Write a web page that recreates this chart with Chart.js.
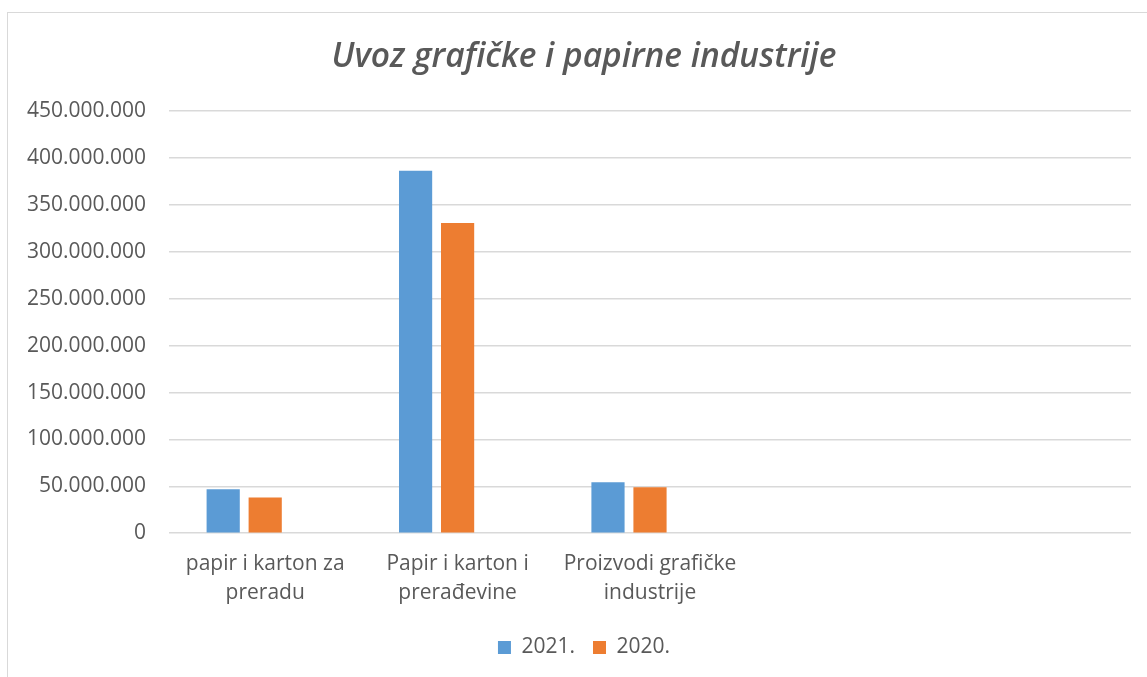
<!DOCTYPE html>
<html>
<head>
<meta charset="utf-8">
<script src="https://cdn.jsdelivr.net/npm/chart.js@4/dist/chart.umd.min.js"></script>
<style>
  html, body { margin: 0; padding: 0; background: #fff; }
  #frame { position: absolute; left: 7px; top: 12px; width: 1160px; height: 700px; border: 1px solid #d9d9d9; box-sizing: border-box; }
  #wrap { position: absolute; left: 0; top: 0; width: 1147px; height: 677px; }
</style>
</head>
<body>
<div id="frame"></div>
<div id="wrap"><canvas id="c" width="1147" height="677"></canvas></div>
<script>
const categories = [["papir i karton za", "preradu"], ["Papir i karton i", "prerađevine"], ["Proizvodi grafičke", "industrije"], "", ""];
const series2021 = [46800000, 386400000, 54200000, null, null];
const series2020 = [38200000, 330700000, 49000000, null, null];
const seriesEmpty = [null, null, null, null, null];
const seriesNames = ["2021.", "2020.", ""];
const yMax = 450000000;
const yStep = 50000000;

function fmt(v) {
  return String(Math.round(v)).replace(/\B(?=(\d{3})+(?!\d))/g, ".");
}

const FONT = "'Open Sans', 'Noto Sans', sans-serif";
const TXT = "#595959";

new Chart(document.getElementById("c"), {
  type: "bar",
  data: {
    labels: categories,
    datasets: [
      { label: seriesNames[0], data: series2021, backgroundColor: "#5B9BD5", borderWidth: 0 },
      { label: seriesNames[1], data: series2020, backgroundColor: "#ED7D31", borderWidth: 0 },
      { label: seriesNames[2], data: seriesEmpty, backgroundColor: "#A5A5A5", borderWidth: 0 }
    ]
  },
  options: {
    responsive: false,
    animation: false,
    categoryPercentage: 0.655,
    barPercentage: 0.79,
    layout: { padding: { left: 37, right: 16, top: 20, bottom: 9 } },
    plugins: {
      title: {
        display: true,
        text: "Uvoz grafičke i papirne industrije",
        color: TXT,
        font: { family: FONT, size: 33.5, style: "italic", weight: "600" },
        padding: { top: 17, bottom: 34 }
      },
      legend: {
        position: "bottom",
        labels: {
          color: TXT,
          font: { family: FONT, size: 21 },
          boxWidth: 13,
          boxHeight: 13,
          padding: 18,
          filter: (item) => item.text !== ""
        }
      },
      tooltip: { enabled: false }
    },
    scales: {
      x: {
        afterFit: (scale) => { scale.height += 3; },
        grid: { display: false },
        border: { display: false },
        ticks: {
          color: TXT,
          font: { family: FONT, size: 21, lineHeight: 1.4 },
          maxRotation: 0,
          autoSkip: false,
          padding: 8
        }
      },
      y: {
        min: 0,
        max: yMax,
        afterFit: (scale) => {
          scale.width = 132;
          scale._computeLabelArea = () => undefined;
        },
        grid: { color: "#d9d9d9", lineWidth: 1.5, drawTicks: false },
        border: { display: false },
        ticks: {
          stepSize: yStep,
          color: TXT,
          font: { family: FONT, size: 21 },
          padding: 23,
          callback: (v) => fmt(v)
        }
      }
    }
  }
});
</script>
</body>
</html>
